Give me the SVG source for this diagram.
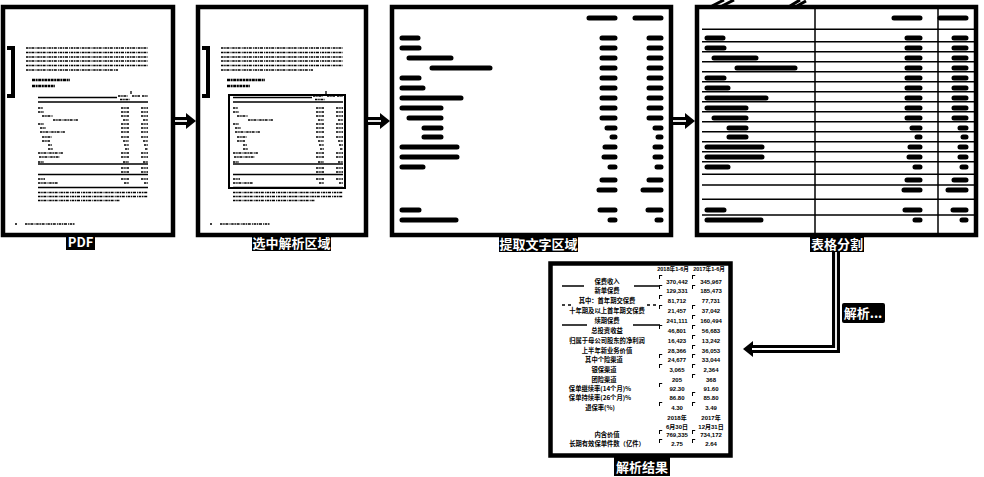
<svg xmlns="http://www.w3.org/2000/svg" xmlns:xlink="http://www.w3.org/1999/xlink" width="984" height="477" viewBox="0 0 984 477">
<style>
.frame{fill:#fff;stroke:#000;stroke-width:4.5}
.t{fill:none;stroke:#000;stroke-width:1.5;stroke-dasharray:2.5 .7 1.5 .7 3 1.1 1 .7}
.th{fill:none;stroke:#000;stroke-width:2.4;stroke-dasharray:3 .6 2 .6}
.ln{fill:none;stroke:#000;stroke-width:1.3}
.bar{fill:none;stroke:#000;stroke-width:5;stroke-linecap:round}
.grid{fill:none;stroke:#000;stroke-width:1.5}
.tag{fill:#000}
.tagtxt{fill:#fff;font-family:"Noto Sans CJK SC","Liberation Sans",sans-serif;font-weight:bold;font-size:13px;text-anchor:middle}
.lab{fill:#000;font-family:"Noto Sans CJK SC",sans-serif;font-weight:bold;font-size:6.3px;text-anchor:middle}
.num{fill:#000;font-family:"Liberation Sans","Noto Sans CJK SC",sans-serif;font-weight:bold;font-size:6px;text-anchor:middle}
.hdr{fill:#000;font-family:"Liberation Sans","Noto Sans CJK SC",sans-serif;font-weight:bold;font-size:5.6px;text-anchor:middle}
.co{fill:none;stroke:#000;stroke-width:8}
.ci{fill:none;stroke:#fff;stroke-width:1.8}
.flag{fill:#000}
</style>
<defs>
<marker id="ah" markerUnits="userSpaceOnUse" markerWidth="10" markerHeight="16" refX="2" refY="8" orient="auto" viewBox="0 0 10 16">
<path d="M0,0 L10,8 L0,16 z" fill="#000"/>
</marker>
<g id="pg">
<path class="t" d="M26,48H148 M26,52.5H148 M26,57H148 M26,61H148 M26,65.5H148 M26,70H118"/>
<path class="th" d="M32,80H70 M32,86H55"/>
<path class="ln" d="M131,91V94"/>
<path class="t" d="M118,96H128 M132,96H140 M142,96H148 M120,99.5H130"/>
<path class="ln" d="M38,97.5H117 M38,102H148 M38,164H148 M38,174.5H148 M38,187.5H148"/>
<path class="t" d="M38,108H43 M38,112H44 M42,116H53 M53,120H78 M38,124H44 M40,128H46 M40,132H65 M42,137H52 M42,141H50 M48,145H52 M48,149H53 M38,153H63 M39,157H60 M38,162H44 M38,179H45 M38,183H58"/>
<path class="t" d="M121,108H129 M141,108H148 M121,112H129 M141,112H148 M121,116H129 M141,116H148 M123,120H129 M143,120H148 M121,124H129 M141,124H148 M121,128H129 M141,128H148 M121,132H129 M141,132H148 M121,137H129 M141,137H148 M123,141H129 M143,141H148 M124,145H129 M144,145H148 M125,149H129 M145,149H148 M121,153H129 M141,153H148 M121,157H129 M141,157H148 M123,162H129 M143,162H148 M121,168H129 M141,168H148 M121,172H129 M141,172H148 M121,179H129 M141,179H148 M124,183H129 M144,183H148"/>
<path class="t" d="M38,192.5H148 M38,196.5H148 M38,200.5H120"/>
<path class="t" d="M15,224H17 M25,224H75"/>
<path fill="none" stroke="#000" stroke-width="4" d="M7,48H13V96H7"/>
</g>
<g id="bars">
<path class="bar" d="M589,18H615 M635,18H661"/>
<path class="bar" d="M402,38H418 M402,48H419 M409,58H451 M432,68H490 M402,78H419 M402,88H423 M402,98H461 M402,108H441 M409,118H441 M424,128H441 M424,137H441 M402,147H457 M402,157H457 M402,167H423 M402,210H419 M402,220H456"/>
<path class="bar" d="M602,38H615 M602,48H615 M602,58H615 M602,68H615 M602,78H615 M602,88H615 M602,98H615 M602,108H615 M602,118H615 M607,128H615 M612,137H615 M605,147H615 M604,157H615 M610,167H615 M602,180H615 M599,190H615 M600,210H615 M610,220H615"/>
<path class="bar" d="M649,38H661 M649,48H661 M649,58H661 M649,68H661 M649,78H661 M649,88H661 M649,98H661 M649,108H661 M649,118H661 M655,128H661 M658,137H661 M655,147H661 M655,157H661 M657,167H661 M649,180H661 M643,190H661 M648,210H661 M657,220H661"/>
</g>
<path id="fl" d="M0,0h3.2v1h-2.2v3h-1z"/>
</defs>

<g id="node-pdf">
<rect class="frame" x="3" y="7" width="170" height="228"/>
<use xlink:href="#pg" href="#pg"/>
<rect class="tag" x="66" y="235" width="29" height="15"/>
<text class="tagtxt" x="80.5" y="247" font-size="12">PDF</text>
</g>

<g id="node-select">
<rect class="frame" x="198" y="7" width="168" height="228"/>
<use xlink:href="#pg" href="#pg" x="195"/>
<rect x="229" y="95" width="116" height="93" fill="none" stroke="#000" stroke-width="2"/>
<rect class="tag" x="252" y="235" width="79" height="16"/>
<text class="tagtxt" x="291.5" y="248">选中解析区域</text>
</g>

<g id="node-extract">
<rect class="frame" x="392" y="7" width="279" height="228"/>
<use xlink:href="#bars" href="#bars"/>
<rect class="tag" x="499" y="236" width="79" height="16"/>
<text class="tagtxt" x="538.5" y="249">提取文字区域</text>
</g>

<g id="node-split">
<rect class="frame" x="697" y="7" width="279" height="228"/>
<path class="grid" d="M702,29.3H974 M702,41.7H974 M702,51.7H974 M702,61.7H974 M702,71.7H974 M702,81.7H974 M702,91.7H974 M702,101.7H974 M702,111.7H974 M702,121.7H974 M702,131.7H974 M702,141.7H974 M702,151.7H974 M702,161.7H974 M702,174.3H974 M702,185H974 M702,199.3H974 M702,215H974"/>
<path class="grid" d="M815,9V233"/>
<path class="grid" stroke-width="2.2" d="M938,9V233"/>
<use xlink:href="#bars" href="#bars" x="305"/>
<path fill="none" stroke="#000" stroke-width="3" d="M712,6L724,0 M722,6L734,0 M790,6L800,0 M797,6L806,1"/>
<rect class="tag" x="810" y="236" width="54" height="16"/>
<text class="tagtxt" x="837" y="249">表格分割</text>
</g>

<g id="node-result">
<rect class="frame" x="550.5" y="263.5" width="180" height="192" stroke-width="5"/>
<text class="hdr" x="673" y="270.5">2018年1-6月</text>
<text class="hdr" x="709" y="270.5">2017年1-6月</text>
<path class="ln" d="M562,286H584 M634,286H660 M562,325H587 M633,325H660"/>
<path class="ln" stroke-dasharray="3 3" d="M562,305H571 M647,305H657"/>
<g class="lab">
<text x="607" y="284.3">保费收入</text>
<text x="607" y="293.3">新单保费</text>
<text x="607" y="303.3">其中：首年期交保费</text>
<text x="607" y="313.3">十年期及以上首年期交保费</text>
<text x="607" y="323.3">续期保费</text>
<text x="607" y="333.3">总投资收益</text>
<text x="607" y="343.3">归属于母公司股东的净利润</text>
<text x="607" y="353.3">上半年新业务价值</text>
<text x="604" y="362.3">其中个险渠道</text>
<text x="604" y="372.3">银保渠道</text>
<text x="604" y="382.3">团险渠道</text>
<text x="600" y="391.3">保单继续率(14个月)%</text>
<text x="600" y="400.3">保单持续率(26个月)%</text>
<text x="600" y="410.3">退保率(%)</text>
<text x="607" y="437.3">内含价值</text>
<text x="607" y="446.3">长期有效保单件数（亿件）</text>
</g>
<g class="num">
<text x="677" y="284.2">370,442</text><text x="711" y="284.2">345,967</text>
<text x="677" y="293.2">129,331</text><text x="711" y="293.2">185,473</text>
<text x="677" y="303.2">81,712</text><text x="711" y="303.2">77,731</text>
<text x="677" y="313.2">21,457</text><text x="711" y="313.2">37,042</text>
<text x="677" y="323.2">241,111</text><text x="711" y="323.2">160,494</text>
<text x="677" y="333.2">46,801</text><text x="711" y="333.2">56,683</text>
<text x="677" y="343.2">16,423</text><text x="711" y="343.2">13,242</text>
<text x="677" y="353.2">28,366</text><text x="711" y="353.2">36,053</text>
<text x="677" y="362.2">24,677</text><text x="711" y="362.2">33,044</text>
<text x="677" y="372.2">3,065</text><text x="711" y="372.2">2,364</text>
<text x="677" y="382.2">205</text><text x="711" y="382.2">368</text>
<text x="677" y="391.2">92.30</text><text x="711" y="391.2">91.60</text>
<text x="677" y="400.2">86.80</text><text x="711" y="400.2">85.80</text>
<text x="677" y="410.2">4.30</text><text x="711" y="410.2">3.49</text>
<text x="677" y="420.2">2018年</text><text x="711" y="420.2">2017年</text>
<text x="677" y="429.2">6月30日</text><text x="711" y="429.2">12月31日</text>
<text x="677" y="437.2">769,335</text><text x="711" y="437.2">734,172</text>
<text x="677" y="446.2">2.75</text><text x="711" y="446.2">2.64</text>
</g>
<g class="flag">
<use xlink:href="#fl" href="#fl" x="659" y="275"/>
<use xlink:href="#fl" href="#fl" x="659" y="285"/>
<use xlink:href="#fl" href="#fl" x="659" y="295"/>
<use xlink:href="#fl" href="#fl" x="659" y="305"/>
<use xlink:href="#fl" href="#fl" x="659" y="325"/>
<use xlink:href="#fl" href="#fl" x="659" y="354"/>
<use xlink:href="#fl" href="#fl" x="659" y="364"/>
<use xlink:href="#fl" href="#fl" x="659" y="383"/>
<use xlink:href="#fl" href="#fl" x="659" y="402"/>
<use xlink:href="#fl" href="#fl" x="659" y="430"/>
<use xlink:href="#fl" href="#fl" x="659" y="439"/>
<use xlink:href="#fl" href="#fl" x="692" y="275"/>
<use xlink:href="#fl" href="#fl" x="692" y="285"/>
<use xlink:href="#fl" href="#fl" x="692" y="305"/>
<use xlink:href="#fl" href="#fl" x="692" y="315"/>
<use xlink:href="#fl" href="#fl" x="692" y="325"/>
<use xlink:href="#fl" href="#fl" x="692" y="335"/>
<use xlink:href="#fl" href="#fl" x="692" y="345"/>
<use xlink:href="#fl" href="#fl" x="692" y="354"/>
<use xlink:href="#fl" href="#fl" x="692" y="364"/>
<use xlink:href="#fl" href="#fl" x="692" y="374"/>
<use xlink:href="#fl" href="#fl" x="692" y="392"/>
<use xlink:href="#fl" href="#fl" x="692" y="402"/>
<use xlink:href="#fl" href="#fl" x="692" y="430"/>
<use xlink:href="#fl" href="#fl" x="692" y="439"/>
</g>
<rect class="tag" x="614" y="457" width="56" height="19"/>
<text class="tagtxt" x="642" y="472" font-size="14">解析结果</text>
</g>

<g id="connectors">
<path class="co" marker-end="url(#ah)" d="M175,121H188"/>
<path class="ci" d="M175,121H187"/>
<path class="co" marker-end="url(#ah)" d="M368,121H382"/>
<path class="ci" d="M368,121H381"/>
<path class="co" marker-end="url(#ah)" d="M673,121H687"/>
<path class="ci" d="M673,121H686"/>
<path class="co" marker-end="url(#ah)" d="M836,252V349H751"/>
<path class="ci" d="M836,252V349H752"/>
<rect class="tag" x="842" y="303" width="43" height="20" rx="2"/>
<text class="tagtxt" x="863" y="318" font-size="12">解析...</text>
</g>
</svg>
